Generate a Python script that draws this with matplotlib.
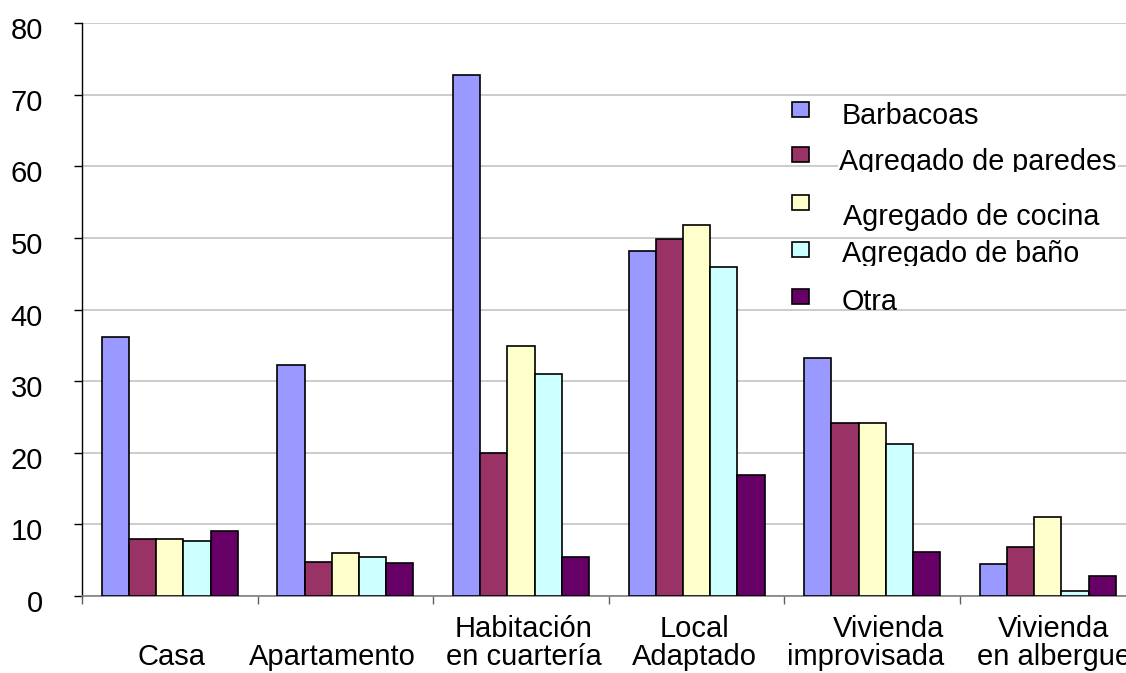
import numpy as np
import matplotlib
matplotlib.use("Agg")
import matplotlib.pyplot as plt
import matplotlib.transforms as mtransforms
from matplotlib.patches import Rectangle

plt.rcParams['font.family'] = ['Liberation Sans', 'DejaVu Sans']

# datos por tipo de vivienda (%)
categorias = ["\nCasa", "\nApartamento", "Habitación\nen cuartería",
              "Local\nAdaptado", "Vivienda\nimprovisada", "Vivienda\nen albergue"]
series = ["Barbacoas", "Agregado de paredes", "Agregado de cocina",
          "Agregado de baño", "Otra"]
barbacoas = [36.1, 32.3, 72.7, 48.1, 33.25, 4.4]
paredes = [8.0, 4.8, 20.0, 49.9, 24.2, 6.8]
cocina = [7.9, 6.0, 34.9, 51.75, 24.2, 11.0]
bano = [7.7, 5.5, 31.0, 46.0, 21.2, 0.65]
otra = [9.1, 4.6, 5.5, 16.85, 6.1, 2.75]
colores = ["#9999FF", "#993366", "#FFFFCC", "#CCFFFF", "#660066"]

W, H = 1126, 673
fig = plt.figure(figsize=(W / 100, H / 100), dpi=100)
ax = fig.add_axes([82 / W, 77 / H, 1053.6 / W, 573 / H])

x = np.arange(len(categorias))
ancho = 0.155
valores = [barbacoas, paredes, cocina, bano, otra]
for j, (nombre, vals) in enumerate(zip(series, valores)):
    ax.bar(x + (j - 2) * ancho, vals, ancho, color=colores[j],
           edgecolor="black", linewidth=1.2, label=nombre, zorder=3)

ax.set_xlim(-0.5, 5.5)
ax.set_ylim(0, 80)
ax.set_yticks(range(0, 81, 10))
ax.yaxis.grid(True, color="#c8c8c8", linewidth=1.3, zorder=0)
ax.set_axisbelow(True)
for s in ["top", "right"]:
    ax.spines[s].set_visible(False)
ax.spines["left"].set_linewidth(1.0)
ax.spines["bottom"].set_color("#808080")
ax.spines["bottom"].set_linewidth(1.2)

ax.set_xticks([])
ax.set_xticks(np.arange(-0.5, 6, 1), minor=True)
ax.tick_params(axis="x", which="minor", length=5.5, color="#606060", width=1)
ax.tick_params(axis="y", length=6, width=1, labelsize=21, pad=22)
bajar = mtransforms.ScaledTranslation(0, -5 / 100, fig.dpi_scale_trans)
for lab in ax.get_yticklabels():
    lab.set_transform(lab.get_transform() + bajar)

# etiquetas de categoría debajo del eje (alineadas por la última línea)
mezcla = mtransforms.blended_transform_factory(ax.transData, ax.transAxes)
desplaz = [2, -13, 3, -2, -7, 6]
alineacion = ["center", "center", "center", "center", "right", "center"]
for i, etiqueta in enumerate(categorias):
    t = mezcla + mtransforms.ScaledTranslation(desplaz[i] / 100, -69 / 100,
                                               fig.dpi_scale_trans)
    ax.text(i, 0, etiqueta, transform=t, ha="center", va="baseline",
            fontsize=21, linespacing=1.0, multialignment=alineacion[i])

# leyenda
def fx(px):
    return px / W

def fy(py):
    return 1 - py / H

cuadro_y = [102, 147, 195, 242, 289]
texto_x = [842, 839, 843, 842, 842]
texto_y = [124, 170, 225, 262.5, 310]
recorte = [None, 172, None, 266, None]
for j, nombre in enumerate(series):
    fig.patches.append(Rectangle((fx(792), fy(cuadro_y[j] + 15)), 17 / W, 15 / H,
                                 transform=fig.transFigure, facecolor=colores[j],
                                 edgecolor="black", linewidth=1.2))
    kw = {}
    if j == 1:
        kw["bbox"] = dict(facecolor="white", edgecolor="none", pad=1)
    txt = fig.text(fx(texto_x[j]), fy(texto_y[j]), nombre, fontsize=20.7,
                   va="baseline", ha="left", **kw)
    if recorte[j] is not None:
        caja = mtransforms.TransformedBbox(
            mtransforms.Bbox.from_extents(0, fy(recorte[j]), 1, 1), fig.transFigure)
        txt.set_clip_box(caja)
        txt.set_clip_on(True)

fig.savefig("out.png", dpi=100)
